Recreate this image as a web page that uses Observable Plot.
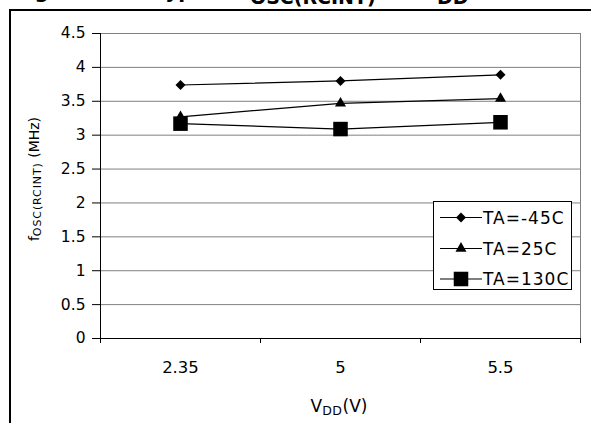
<!DOCTYPE html>
<html><head><meta charset="utf-8">
<script src="https://cdn.jsdelivr.net/npm/d3@7"></script>
<script src="https://cdn.jsdelivr.net/npm/@observablehq/plot@0.6"></script>
<style>
html,body{margin:0;padding:0;background:#fff;}
#wrap{position:relative;width:591px;height:423px;overflow:hidden;font-family:"DejaVu Sans",sans-serif;color:#000;}
#wrap > svg{position:absolute;left:0;top:0;}
#frame{position:absolute;left:9px;top:9px;right:0;bottom:0;border-left:2px solid #000;border-top:2px solid #000;pointer-events:none;}
.t{position:absolute;white-space:nowrap;font-weight:bold;line-height:1;}
.tm{font-size:20px;top:-19px;}
.ts{font-size:19px;top:-12.5px;}
#ylab{position:absolute;left:35px;top:179px;transform:translate(-50%,-50%) rotate(-90deg);white-space:nowrap;font-size:14px;line-height:1;}
#ylab sub{font-size:11px;letter-spacing:0.9px;vertical-align:-2px;}
#xlab{position:absolute;left:339px;top:408px;transform:translate(-50%,-50%);white-space:nowrap;font-size:17px;line-height:1;}
#xlab sub{font-size:12.5px;letter-spacing:0.6px;vertical-align:-3px;}
#legend{position:absolute;left:433px;top:201px;width:139px;height:89px;box-sizing:border-box;border:1px solid #000;background:#fff;}
#legend svg{position:absolute;left:0;top:0;}
</style></head><body><div id="wrap"></div>
<script>
// ---- data ----
const vdd = ["2.35", "5", "5.5"];
const series = ["TA=-45C", "TA=25C", "TA=130C"];
const fTaM45 = [3.74, 3.80, 3.89];
const fTa25 = [3.27, 3.47, 3.54];
const fTa130 = [3.17, 3.09, 3.19];
const yTicks = [0, 0.5, 1, 1.5, 2, 2.5, 3, 3.5, 4, 4.5];

// ---- styles ----
const values = [fTaM45, fTa25, fTa130];
const markStyle = {
  "TA=-45C": {symbol: "diamond2", d3sym: d3.symbolDiamond2, r: 4.5},
  "TA=25C": {symbol: "triangle", d3sym: d3.symbolTriangle, r: 4.1},
  "TA=130C": {symbol: "square", d3sym: d3.symbolSquare, r: 8.2}
};

const rows = series.flatMap((s, si) => vdd.map((v, i) => ({series: s, vdd: v, idx: i + 0.5, f: values[si][i]})));

const chart = Plot.plot({
  width: 591, height: 423,
  marginLeft: 100, marginRight: 11, marginTop: 33, marginBottom: 85,
  style: {fontFamily: "DejaVu Sans, sans-serif", background: "transparent", color: "#000"},
  x: {domain: [0, vdd.length], axis: null},
  y: {domain: [0, 4.5], axis: null},
  marks: [
    Plot.gridY(yTicks.filter(d => d > 0), {stroke: "#808080", strokeOpacity: 1, strokeWidth: 1}),
    Plot.ruleX([vdd.length], {stroke: "#808080", strokeWidth: 1}),
    Plot.ruleX([0], {stroke: "#000", strokeWidth: 1}),
    Plot.ruleY([0], {stroke: "#000", strokeWidth: 1}),
    Plot.axisY({ticks: yTicks, tickSize: 8, tickPadding: 7, fontSize: 15.5, label: null, tickFormat: d => String(d)}),
    Plot.axisX({ticks: d3.range(vdd.length + 1), tickSize: 5, tickFormat: () => "", label: null}),
    Plot.axisX({ticks: vdd.map((d, i) => i + 0.5), tickSize: 0, tickPadding: 23, fontSize: 16.5, label: null,
      tickFormat: d => vdd[Math.round(d - 0.5)]}),
    Plot.line(rows, {x: "idx", y: "f", z: "series", stroke: "#000", strokeWidth: 1.2}),
    ...series.map(s => Plot.dot(rows.filter(d => d.series === s), {
      x: "idx", y: "f", symbol: markStyle[s].symbol, r: markStyle[s].r, fill: "#000", stroke: "none"
    }))
  ]
});

const wrap = document.getElementById("wrap");
wrap.appendChild(chart);

// frame
const frame = document.createElement("div");
frame.id = "frame";
wrap.appendChild(frame);

// title (clipped at top, as in the reference)
const titleParts = [
  {text: "Figure 3-4:", cls: "tm", left: 14},
  {text: "Typical f", cls: "tm", left: 154},
  {text: "OSC(RCINT)", cls: "ts", left: 250},
  {text: "vs. V", cls: "tm", left: 382},
  {text: "DD", cls: "ts", left: 437}
];
for (const p of titleParts) {
  const s = document.createElement("span");
  s.className = "t " + p.cls;
  s.style.left = p.left + "px";
  s.textContent = p.text;
  wrap.appendChild(s);
}

// axis titles
const ylab = document.createElement("div");
ylab.id = "ylab";
ylab.innerHTML = "f<sub>OSC(RCINT)</sub> (MHz)";
wrap.appendChild(ylab);

const xlab = document.createElement("div");
xlab.id = "xlab";
xlab.innerHTML = "V<sub>DD</sub>(V)";
wrap.appendChild(xlab);

// legend
const legend = document.createElement("div");
legend.id = "legend";
wrap.appendChild(legend);
const lsvg = d3.select(legend).append("svg").attr("width", 137).attr("height", 87);
const rowY = [15.5, 46.5, 77];
series.forEach((s, i) => {
  const g = lsvg.append("g").attr("transform", `translate(0,${rowY[i]})`);
  g.append("line").attr("x1", 6).attr("x2", 48).attr("y1", 0).attr("y2", 0).attr("stroke", "#000").attr("stroke-width", 1.2);
  const st = markStyle[s];
  let symType = st.d3sym;
  let rot = 0;
  if (!symType) { symType = d3.symbolSquare; rot = 45; }
  const size = Math.PI * st.r * st.r * (rot ? 0.78 : 1);
  g.append("path").attr("d", d3.symbol(symType, size)()).attr("transform", `translate(27,0) rotate(${rot})`).attr("fill", "#000");
  g.append("text").attr("x", 49).attr("y", 0).attr("dy", "0.36em")
    .attr("font-family", "DejaVu Sans, sans-serif").attr("font-size", 17).attr("letter-spacing", 1)
    .attr("fill", "#000").text(s);
});
</script>
</body></html>
